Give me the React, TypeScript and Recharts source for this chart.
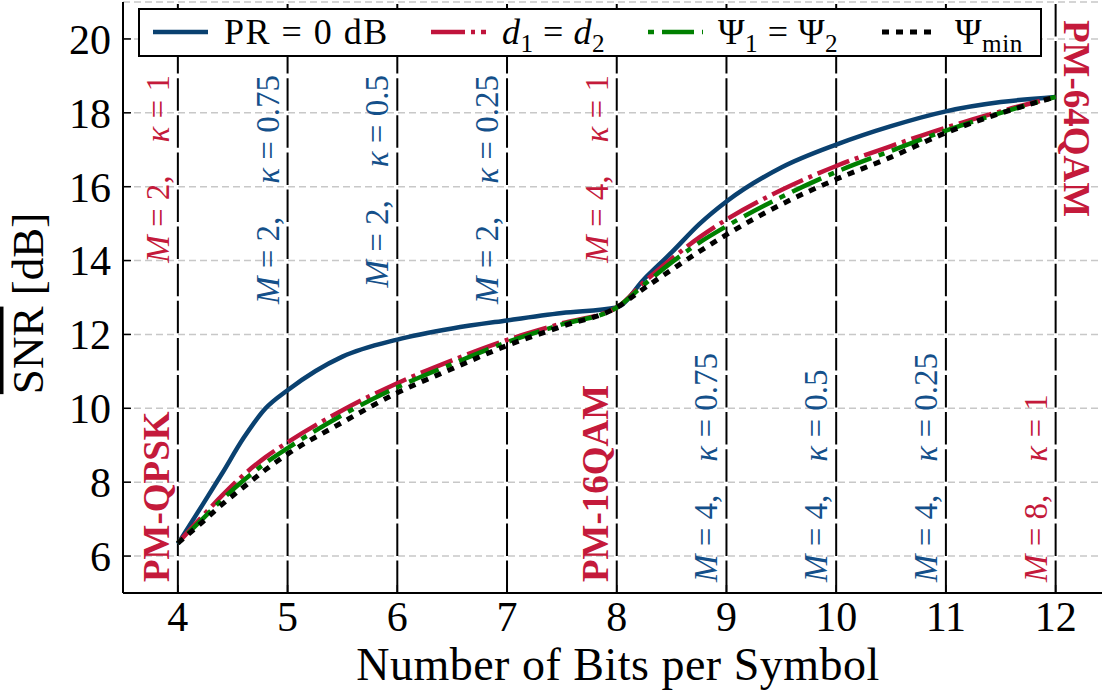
import React from 'react';
import { LineChart, Line, XAxis, YAxis, CartesianGrid, ReferenceLine, Legend } from 'recharts';

const SERIF = '"Liberation Serif", "Times New Roman", serif';

// bits per symbol (x) and the four SNR curves in dB
const BITS = [4, 4.2, 4.4, 4.6, 4.8, 5, 5.5, 6, 6.5, 7, 7.5, 8, 8.25, 8.5, 8.75, 9, 9.5, 10, 10.5, 11, 11.5, 12];
const SNR_PR0 = [6.33, 7.27, 8.22, 9.2, 10.0, 10.49, 11.4, 11.86, 12.16, 12.38, 12.58, 12.73, 13.5, 14.22, 14.98, 15.6, 16.52, 17.14, 17.64, 18.04, 18.29, 18.43];
const SNR_EQ_DIST = [6.35, 7.0, 7.63, 8.2, 8.68, 9.08, 9.95, 10.68, 11.3, 11.85, 12.3, 12.73, 13.42, 14.05, 14.62, 15.11, 15.91, 16.56, 17.1, 17.6, 18.04, 18.43];
const SNR_EQ_PSI = [6.35, 6.93, 7.52, 8.05, 8.52, 8.92, 9.82, 10.57, 11.2, 11.79, 12.27, 12.73, 13.35, 13.95, 14.48, 14.93, 15.72, 16.4, 16.97, 17.52, 18.0, 18.43];
const SNR_PSI_MIN = [6.35, 6.86, 7.39, 7.87, 8.34, 8.76, 9.62, 10.42, 11.07, 11.7, 12.22, 12.73, 13.25, 13.75, 14.24, 14.7, 15.52, 16.2, 16.8, 17.46, 17.99, 18.43];

const X_TICKS = [4, 5, 6, 7, 8, 9, 10, 11, 12];
const Y_TICKS = [6, 8, 10, 12, 14, 16, 18, 20];

// (M, kappa) notes next to the vertical lines
const TOP_NOTES = [
  { x: 4, m: '2', k: '1', tone: 'red' },
  { x: 5, m: '2', k: '0.75', tone: 'blue' },
  { x: 6, m: '2', k: '0.5', tone: 'blue' },
  { x: 7, m: '2', k: '0.25', tone: 'blue' },
  { x: 8, m: '4', k: '1', tone: 'red' },
];
const BOTTOM_NOTES = [
  { x: 9, m: '4', k: '0.75', tone: 'blue' },
  { x: 10, m: '4', k: '0.5', tone: 'blue' },
  { x: 11, m: '4', k: '0.25', tone: 'blue' },
  { x: 12, m: '8', k: '1', tone: 'red' },
];
const FORMATS = [
  { x: 4, name: 'PM-QPSK', side: 'bottom' },
  { x: 8, name: 'PM-16QAM', side: 'bottom' },
  { x: 12, name: 'PM-64QAM', side: 'top' },
];

const TONES: Record<string, string> = { red: '#c41a3b', blue: '#14508a' };

const data = BITS.map((b, i) => ({
  bits: b,
  pr0: SNR_PR0[i],
  eqDist: SNR_EQ_DIST[i],
  eqPsi: SNR_EQ_PSI[i],
  psiMin: SNR_PSI_MIN[i],
}));

const SERIES = [
  { key: 'pr0', color: '#0a4170', dash: undefined, width: 4.5 },
  { key: 'eqDist', color: '#c0143c', dash: '34 6 4 6', width: 4.5 },
  { key: 'eqPsi', color: '#008000', dash: '6 8 32 8', width: 4.5 },
  { key: 'psiMin', color: '#000000', dash: '7 7', width: 5 },
];

const sub = (s: string) => <sub style={{ fontSize: '0.7em', verticalAlign: '-0.3em' }}>{s}</sub>;

const LEGEND_TEXT: Record<string, React.ReactNode> = {
  pr0: <span>PR = 0 dB</span>,
  eqDist: <span><i>d</i>{sub('1')} = <i>d</i>{sub('2')}</span>,
  eqPsi: <span>Ψ{sub('1')} = Ψ{sub('2')}</span>,
  psiMin: <span>Ψ{sub('min')}</span>,
};

const LegendBox = () => {
  const handleLeft = [13, 291, 508, 742];
  const textLeft = [84, 362, 578, 815];
  return (
    <div style={{ width: 904, height: 49, boxSizing: 'border-box', border: '2px solid #000', background: '#fff', position: 'relative', fontFamily: SERIF, fontSize: 36, color: '#000' }}>
      {SERIES.map((s, i) => (
        <React.Fragment key={s.key}>
          <svg width={55} height={14} style={{ position: 'absolute', left: handleLeft[i], top: 15 }}>
            <line x1={0} y1={7} x2={55} y2={7} stroke={s.color} strokeWidth={s.width} strokeDasharray={s.dash} />
          </svg>
          <div style={{ position: 'absolute', left: textLeft[i], top: 2, lineHeight: '40px', whiteSpace: 'nowrap', letterSpacing: i === 0 ? 1.5 : 0.5 }}>{LEGEND_TEXT[s.key]}</div>
        </React.Fragment>
      ))}
    </div>
  );
};

const noteText = (m: string, k: string) => [
  <tspan key="m" fontStyle="italic">M</tspan>,
  ` = ${m},    `,
  <tspan key="k" fontStyle="italic">κ</tspan>,
  ` = ${k}`,
];

const makeNotes = (xv: number) => (props: any) => {
  const vb = props.viewBox;
  if (!vb) return null;
  const lx = vb.x;
  const top = vb.y;
  const bottom = vb.y + vb.height;
  const items: React.ReactNode[] = [];
  const noteFont = { fontSize: 33, fontFamily: SERIF, style: { whiteSpace: 'pre' as const } };
  TOP_NOTES.filter((n) => n.x === xv).forEach((n) => {
    const tx = lx - 9;
    const ty = top + 73;
    items.push(
      <text key="t" x={tx} y={ty} transform={`rotate(-90 ${tx} ${ty})`} textAnchor="end" fill={TONES[n.tone]} {...noteFont}>
        {noteText(n.m, n.k)}
      </text>
    );
  });
  BOTTOM_NOTES.filter((n) => n.x === xv).forEach((n) => {
    const tx = lx - 9;
    const ty = bottom - 11;
    items.push(
      <text key="b" x={tx} y={ty} transform={`rotate(-90 ${tx} ${ty})`} textAnchor="start" fill={TONES[n.tone]} {...noteFont}>
        {noteText(n.m, n.k)}
      </text>
    );
  });
  FORMATS.filter((f) => f.x === xv).forEach((f) => {
    if (f.side === 'bottom') {
      const tx = lx - 9;
      const ty = bottom - 11;
      items.push(
        <text key="f" x={tx} y={ty} transform={`rotate(-90 ${tx} ${ty})`} textAnchor="start" fill={TONES.red} fontSize={37} fontWeight="bold" fontFamily={SERIF}>
          {f.name}
        </text>
      );
    } else {
      const tx = lx + 8;
      const ty = top + 18;
      items.push(
        <text key="f" x={tx} y={ty} transform={`rotate(90 ${tx} ${ty})`} textAnchor="start" fill={TONES.red} fontSize={37} fontWeight="bold" fontFamily={SERIF}>
          {f.name}
        </text>
      );
    }
  });
  return <g>{items}</g>;
};

const XLabel = (props: any) => {
  const vb = props.viewBox;
  return (
    <text x={vb.x + vb.width / 2 + 4} y={vb.y + 87} textAnchor="middle" fontSize={46} fontFamily={SERIF} fill="#000" letterSpacing={0.5}>
      Number of Bits per Symbol
    </text>
  );
};

const YLabel = (props: any) => {
  const vb = props.viewBox;
  const cx = 43;
  const cy = vb.y + vb.height / 2 + 6;
  return (
    <text x={cx} y={cy} transform={`rotate(-90 ${cx} ${cy})`} textAnchor="middle" fontSize={45} fontFamily={SERIF} fill="#000">
      <tspan style={{ textDecoration: 'overline' }}>SNR</tspan> [dB]
    </text>
  );
};

const tickStyle = { fontSize: 42, fontFamily: SERIF, fill: '#000' };

export default function App() {
  return (
    <div style={{ position: 'absolute', left: 0, top: 0, width: 1102, height: 693, overflow: 'hidden', background: '#fff' }}>
      <LineChart width={1106} height={693} data={data} margin={{ top: 2, right: 1, left: 0, bottom: 0 }}>
        <CartesianGrid horizontal vertical={false} stroke="#c8c8c8" strokeWidth={1.5} strokeDasharray="7 4" />
        <XAxis
          dataKey="bits"
          type="number"
          domain={[3.5, 12.45]}
          ticks={X_TICKS}
          interval={0}
          allowDataOverflow
          height={100}
          axisLine={{ stroke: '#000', strokeWidth: 2 }}
          tickLine={{ stroke: '#000', strokeWidth: 1.5 }}
          tickSize={-8}
          tickMargin={16}
          tick={tickStyle}
          label={XLabel}
        />
        <XAxis
          xAxisId="top"
          orientation="top"
          dataKey="bits"
          type="number"
          domain={[3.5, 12.45]}
          ticks={X_TICKS}
          interval={0}
          allowDataOverflow
          height={0}
          axisLine={{ stroke: '#000', strokeWidth: 2 }}
          tickLine={{ stroke: '#000', strokeWidth: 1.5 }}
          tickSize={-8}
          tick={false}
        />
        <YAxis
          type="number"
          domain={[5, 21]}
          ticks={Y_TICKS}
          interval={0}
          allowDataOverflow
          width={123}
          axisLine={{ stroke: '#000', strokeWidth: 2 }}
          tickLine={{ stroke: '#000', strokeWidth: 1.5 }}
          tickSize={-8}
          tickMargin={20}
          tick={tickStyle}
          label={YLabel}
        />
        <YAxis
          yAxisId="right"
          orientation="right"
          type="number"
          domain={[5, 21]}
          ticks={Y_TICKS}
          interval={0}
          allowDataOverflow
          width={0}
          axisLine={{ stroke: '#000', strokeWidth: 2 }}
          tickLine={{ stroke: '#000', strokeWidth: 1.5 }}
          tickSize={-8}
          tick={false}
        />
        {X_TICKS.map((xv) => (
          <ReferenceLine key={xv} x={xv} stroke="#000" strokeWidth={2} strokeDasharray="32.5 4.6" label={makeNotes(xv)} />
        ))}
        {SERIES.map((s) => (
          <Line
            key={s.key}
            dataKey={s.key}
            type="monotone"
            stroke={s.color}
            strokeWidth={s.width}
            strokeDasharray={s.dash}
            dot={false}
            activeDot={false}
            isAnimationActive={false}
          />
        ))}
        <Legend
          layout="horizontal"
          verticalAlign="middle"
          align="center"
          content={LegendBox}
          wrapperStyle={{ left: 138, top: 8, width: 904, height: 49 }}
        />
      </LineChart>
    </div>
  );
}
